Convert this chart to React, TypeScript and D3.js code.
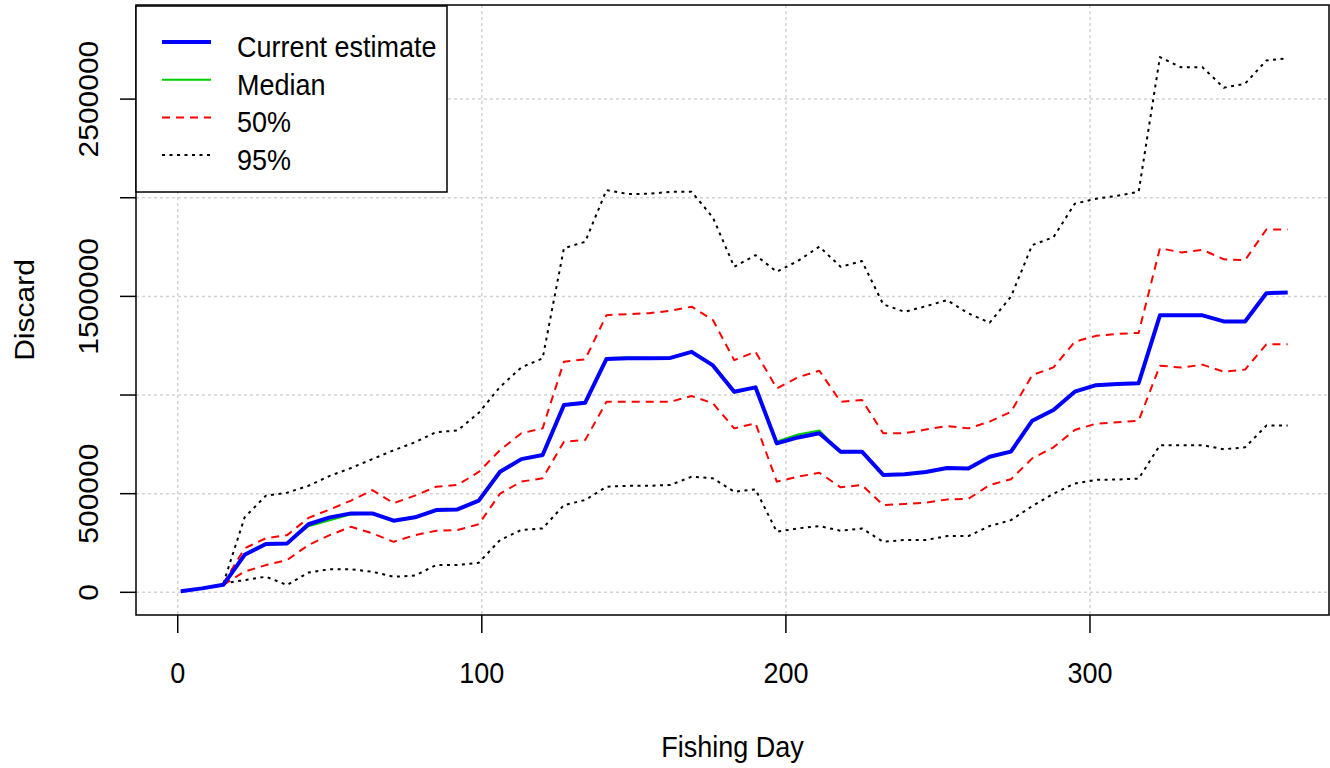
import React from "react";
import * as d3 from "d3";

const days = [1, 8, 15, 22, 29, 36, 43, 50, 57, 64, 71, 78, 85, 92, 99, 106, 113, 120, 127, 134, 141, 148, 155, 162, 169, 176, 183, 190, 197, 204, 211, 218, 225, 232, 239, 246, 253, 260, 267, 274, 281, 288, 295, 302, 309, 316, 323, 330, 337, 344, 351, 358, 365];

const currentEstimate = [5000, 20000, 38000, 190000, 245000, 248000, 345000, 380000, 400000, 400000, 363000, 380000, 417000, 420000, 465000, 611000, 675000, 696000, 949000, 961000, 1183000, 1186000, 1186000, 1188000, 1219000, 1150000, 1017000, 1039000, 755000, 785000, 806000, 713000, 713000, 595000, 598000, 610000, 630000, 628000, 687000, 713000, 870000, 924000, 1017000, 1050000, 1056000, 1060000, 1404000, 1404000, 1404000, 1373000, 1373000, 1516000, 1520000];

const median = [5000, 20000, 38000, 190000, 245000, 248000, 335000, 365000, 395000, 400000, 363000, 380000, 417000, 420000, 465000, 611000, 675000, 698000, 952000, 965000, 1188000, 1190000, 1188000, 1190000, 1219000, 1150000, 1012000, 1040000, 765000, 800000, 820000, 708000, 713000, 595000, 597000, 608000, 630000, 628000, 690000, 716000, 872000, 928000, 1020000, 1052000, 1056000, 1060000, 1404000, 1404000, 1404000, 1373000, 1373000, 1516000, 1520000];

const upper50 = [null, null, 45000, 223000, 274000, 290000, 377000, 420000, 465000, 518000, 452000, 490000, 535000, 544000, 610000, 721000, 806000, 831000, 1169000, 1181000, 1405000, 1410000, 1415000, 1427000, 1448000, 1380000, 1177000, 1219000, 1034000, 1090000, 1123000, 966000, 975000, 806000, 806000, 825000, 843000, 831000, 865000, 915000, 1101000, 1140000, 1270000, 1300000, 1310000, 1315000, 1744000, 1723000, 1736000, 1688000, 1684000, 1839000, 1839000];

const lower50 = [null, null, 38000, 105000, 138000, 164000, 240000, 290000, 332000, 299000, 256000, 290000, 312000, 316000, 345000, 500000, 561000, 578000, 763000, 772000, 966000, 966000, 966000, 966000, 995000, 958000, 831000, 857000, 561000, 586000, 606000, 532000, 544000, 442000, 448000, 454000, 471000, 474000, 544000, 573000, 679000, 735000, 823000, 855000, 862000, 870000, 1149000, 1139000, 1154000, 1118000, 1129000, 1257000, 1257000];

const upper95 = [null, null, 45000, 380000, 490000, 505000, 540000, 590000, 630000, 675000, 720000, 760000, 812000, 820000, 910000, 1041000, 1140000, 1186000, 1744000, 1777000, 2039000, 2019000, 2020000, 2030000, 2030000, 1900000, 1650000, 1709000, 1625000, 1680000, 1752000, 1650000, 1679000, 1460000, 1422000, 1450000, 1481000, 1414000, 1367000, 1498000, 1760000, 1800000, 1970000, 1995000, 2010000, 2030000, 2713000, 2661000, 2661000, 2558000, 2578000, 2696000, 2707000];

const lower95 = [null, null, 45000, 62000, 79000, 37000, 100000, 117000, 117000, 104000, 79000, 85000, 138000, 138000, 150000, 265000, 316000, 324000, 442000, 468000, 535000, 540000, 540000, 544000, 586000, 578000, 510000, 522000, 307000, 324000, 336000, 312000, 324000, 256000, 265000, 265000, 285000, 285000, 336000, 366000, 437000, 500000, 552000, 570000, 572000, 576000, 746000, 746000, 746000, 725000, 735000, 845000, 845000];

const xTicks = [0, 100, 200, 300];
const yTicks = [0, 500000, 1000000, 1500000, 2000000, 2500000];
const yTickLabels = ["0", "500000", "", "1500000", "", "2500000"];

const legendItems = [
  { label: "Current estimate", color: "#0000FF", width: 4, dash: "" },
  { label: "Median", color: "#00CD00", width: 2, dash: "" },
  { label: "50%", color: "#FF0000", width: 2, dash: "8,6" },
  { label: "95%", color: "#000000", width: 2, dash: "3,4.5" },
];

const W = 1330;
const H = 768;
const box = { left: 136, right: 1329, top: 5, bottom: 615 };
const FONT = "'Liberation Sans', Arial, sans-serif";
const FS = 30;
const SX = 0.9;

export default function App() {
  const x = d3.scaleLinear().domain([-13.72, 378.6]).range([box.left, box.right]);
  const y = d3.scaleLinear().domain([-115000, 2977000]).range([box.bottom, box.top]);

  const mk = (vals: (number | null)[]) =>
    d3
      .line<number>()
      .defined((_, i) => vals[i] !== null)
      .x((d) => x(d))
      .y((_, i) => y(vals[i] as number))(days) || "";

  const series = [
    { vals: upper95, color: "#000000", width: 2, dash: "3,4.5" },
    { vals: lower95, color: "#000000", width: 2, dash: "3,4.5" },
    { vals: upper50, color: "#FF0000", width: 2, dash: "8,6" },
    { vals: lower50, color: "#FF0000", width: 2, dash: "8,6" },
    { vals: median, color: "#00CD00", width: 2, dash: "" },
    { vals: currentEstimate, color: "#0000FF", width: 4, dash: "" },
  ];

  return (
    <svg
      width={W}
      height={H}
      style={{ position: "absolute", left: 0, top: 0, background: "#fff" }}
      fontFamily={FONT}
    >
      <rect x={0} y={0} width={W} height={H} fill="#fff" />
      {/* grid */}
      {xTicks.map((t) => (
        <line key={"gx" + t} x1={x(t)} x2={x(t)} y1={box.top} y2={box.bottom} stroke="#D3D3D3" strokeWidth={1.5} strokeDasharray="3,3" />
      ))}
      {yTicks.map((t) => (
        <line key={"gy" + t} x1={box.left} x2={box.right} y1={y(t)} y2={y(t)} stroke="#D3D3D3" strokeWidth={1.5} strokeDasharray="3,3" />
      ))}
      {/* series */}
      {series.map((s, i) => (
        <path key={i} d={mk(s.vals)} fill="none" stroke={s.color} strokeWidth={s.width} strokeDasharray={s.dash || undefined} strokeLinejoin="round" />
      ))}
      {/* box */}
      <rect x={box.left} y={box.top} width={box.right - box.left} height={box.bottom - box.top} fill="none" stroke="#000" strokeWidth={1.5} />
      {/* x axis */}
      {xTicks.map((t) => (
        <g key={"xt" + t}>
          <line x1={x(t)} x2={x(t)} y1={box.bottom} y2={633} stroke="#000" strokeWidth={1.5} />
          <text transform={`translate(${x(t)},683) scale(${SX},1)`} textAnchor="middle" fontSize={FS} fill="#000">
            {t}
          </text>
        </g>
      ))}
      {/* y axis */}
      {yTicks.map((t, i) => (
        <g key={"yt" + t}>
          <line x1={120} x2={box.left} y1={y(t)} y2={y(t)} stroke="#000" strokeWidth={1.5} />
          {yTickLabels[i] && (
            <text transform={`translate(98,${y(t)}) scale(${SX},1) rotate(-90)`} textAnchor="middle" fontSize={FS} fill="#000">
              {yTickLabels[i]}
            </text>
          )}
        </g>
      ))}
      {/* axis titles */}
      <text transform={`translate(${(box.left + box.right) / 2},757) scale(${SX},1)`} textAnchor="middle" fontSize={FS} fill="#000">
        Fishing Day
      </text>
      <text transform={`translate(34,${(box.top + box.bottom) / 2}) scale(${SX},1) rotate(-90)`} textAnchor="middle" fontSize={FS} fill="#000">
        Discard
      </text>
      {/* legend */}
      <rect x={136} y={6} width={311} height={186} fill="#fff" stroke="#000" strokeWidth={1.5} />
      {legendItems.map((it, i) => (
        <g key={it.label}>
          <line x1={162} x2={211} y1={42 + 37.7 * i} y2={42 + 37.7 * i} stroke={it.color} strokeWidth={it.width} strokeDasharray={it.dash || undefined} />
          <text transform={`translate(237,${57 + 37.5 * i}) scale(${SX},1)`} fontSize={FS} fill="#000">
            {it.label}
          </text>
        </g>
      ))}
    </svg>
  );
}
